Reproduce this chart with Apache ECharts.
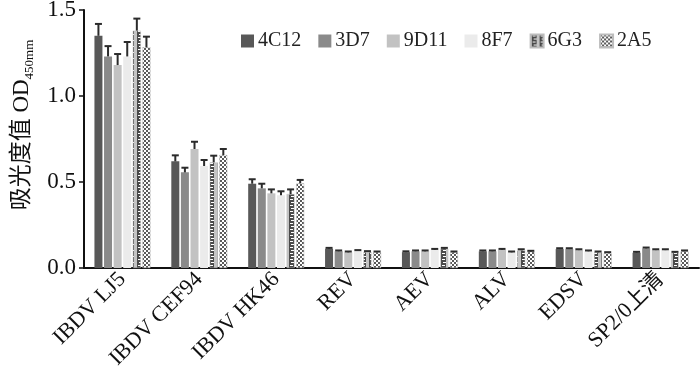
<!DOCTYPE html>
<html><head><meta charset="utf-8">
<script src="https://cdn.jsdelivr.net/npm/echarts@6/dist/echarts.min.js"></script>
<style>html,body{margin:0;padding:0;background:#fff}#c{width:700px;height:390px}</style>
</head><body><div id="c"></div>
<script>
const categories = ['IBDV LJ5','IBDV CEF94','IBDV HK46','REV','AEV','ALV','EDSV','SP2/0上清'];
const seriesNames = ['4C12','3D7','9D11','8F7','6G3','2A5'];
const yTicks = [0, 0.5, 1.0, 1.5];
// mean values per antibody across categories
const v4C12 = [1.35, 0.62, 0.49, 0.112, 0.092, 0.097, 0.110, 0.089];
const v3D7  = [1.23, 0.556, 0.463, 0.097, 0.097, 0.097, 0.110, 0.114];
const v9D11 = [1.18, 0.692, 0.434, 0.091, 0.097, 0.106, 0.104, 0.104];
const v8F7  = [1.23, 0.593, 0.423, 0.099, 0.106, 0.091, 0.097, 0.104];
const v6G3  = [1.38, 0.614, 0.430, 0.093, 0.112, 0.104, 0.091, 0.089];
const v2A5  = [1.283, 0.657, 0.492, 0.091, 0.091, 0.095, 0.087, 0.097];
// upper error bar ends
const e4C12 = [1.419, 0.655, 0.516, 0.117, 0.097, 0.102, 0.115, 0.094];
const e3D7  = [1.29, 0.583, 0.49, 0.102, 0.102, 0.102, 0.115, 0.119];
const e9D11 = [1.244, 0.734, 0.457, 0.096, 0.102, 0.111, 0.109, 0.109];
const e8F7  = [1.314, 0.628, 0.446, 0.104, 0.111, 0.096, 0.102, 0.109];
const e6G3  = [1.45, 0.653, 0.457, 0.098, 0.117, 0.109, 0.096, 0.094];
const e2A5  = [1.345, 0.692, 0.512, 0.096, 0.096, 0.100, 0.092, 0.102];

const means = [v4C12, v3D7, v9D11, v8F7, v6G3, v2A5];
const uppers = [e4C12, e3D7, e9D11, e8F7, e6G3, e2A5];

function makePattern(kind){
  const c = document.createElement('canvas');
  const ctx = c.getContext('2d');
  if(kind==='6G3'){
    c.width=8; c.height=6;
    ctx.fillStyle='#c4c4c4'; ctx.fillRect(0,0,8,6);
    ctx.fillStyle='#4a4a4a'; ctx.fillRect(1,0,5,6);
    ctx.fillStyle='#ffffff'; ctx.fillRect(2,1,3,1); ctx.fillRect(3,4,3,1);
  } else {
    c.width=4; c.height=4;
    ctx.fillStyle='#ffffff'; ctx.fillRect(0,0,4,4);
    ctx.fillStyle='#5a5a5a'; ctx.fillRect(0,0,2,2); ctx.fillRect(2,2,2,2);
  }
  return {image:c, repeat:'repeat'};
}
const colors = ['#585858','#8a8a8a','#c2c2c2','#ebebeb', makePattern('6G3'), makePattern('2A5')];

const BAR_W = 8, GAP = 0.2;
const series = [];
seriesNames.forEach((n,i)=>{
  series.push({
    name:n, type:'bar', data:means[i], barWidth:BAR_W, barGap:(GAP*100)+'%',
    itemStyle:{color:colors[i], borderColor: i>=4 ? '#bdbdbd' : 'transparent', borderWidth: i>=4?0.5:0},
    z:2
  });
});
seriesNames.forEach((n,i)=>{
  series.push({
    type:'custom', silent:true, z:5,
    data: categories.map((c,k)=>[k, means[i][k], uppers[i][k]]),
    renderItem:function(params, api){
      const k = api.value(0);
      const c0 = api.coord([k, api.value(1)]);
      const c1 = api.coord([k, api.value(2)]);
      const nb = seriesNames.length;
      const total = nb*BAR_W + (nb-1)*BAR_W*GAP;
      const x = c0[0] - total/2 + i*BAR_W*(1+GAP) + BAR_W/2;
      const half = 3.5;
      return {type:'group', children:[
        {type:'line', shape:{x1:x,y1:c0[1],x2:x,y2:c1[1]}, style:{stroke:'#2b2b2b', lineWidth:2}},
        {type:'line', shape:{x1:x-half,y1:c1[1],x2:x+half,y2:c1[1]}, style:{stroke:'#2b2b2b', lineWidth:2}}
      ]};
    }
  });
});

const chart = echarts.init(document.getElementById('c'), null, {renderer:'canvas'});
chart.setOption({
  animation:false,
  textStyle:{fontFamily:'Liberation Serif'},
  legend:{
    data:seriesNames, top:26, left:236, itemWidth:13, itemHeight:13, itemGap:17,
    textStyle:{fontFamily:'Liberation Serif', fontSize:20, color:'#222', padding:[0,0,0,-1]},
    icon:'rect'
  },
  grid:{left:84, right:1, top:10, bottom:122, containLabel:false, outerBoundsMode:'none'},
  xAxis:{
    type:'category', data:categories,
    axisLine:{lineStyle:{color:'#111', width:2}},
    axisTick:{alignWithLabel:true, length:5, lineStyle:{color:'#111', width:1.5}},
    axisLabel:{rotate:45, interval:0, fontSize:22, color:'#111', margin:8,
      fontFamily:'Liberation Serif, Noto Sans CJK SC'}
  },
  yAxis:{
    type:'value', min:0, max:1.5, interval:0.5,
    name:'{a|吸光度值 OD}{s|450mm}', nameLocation:'middle', nameGap:46, nameRotate:90,
    nameTextStyle:{padding:[0,0,0,28], rich:{
      a:{fontFamily:'Liberation Serif, Noto Sans CJK SC', fontSize:23, color:'#111'},
      s:{fontFamily:'Liberation Serif', fontSize:13, color:'#111', verticalAlign:'bottom', padding:[16,0,0,0]}
    }},
    axisLine:{show:true, lineStyle:{color:'#111', width:2}},
    axisTick:{show:true, length:5, lineStyle:{color:'#111', width:1.5}},
    splitLine:{show:false},
    axisLabel:{fontSize:23, color:'#111', margin:8, formatter:v=>v.toFixed(1)}
  },
  series:series
});
</script></body></html>
